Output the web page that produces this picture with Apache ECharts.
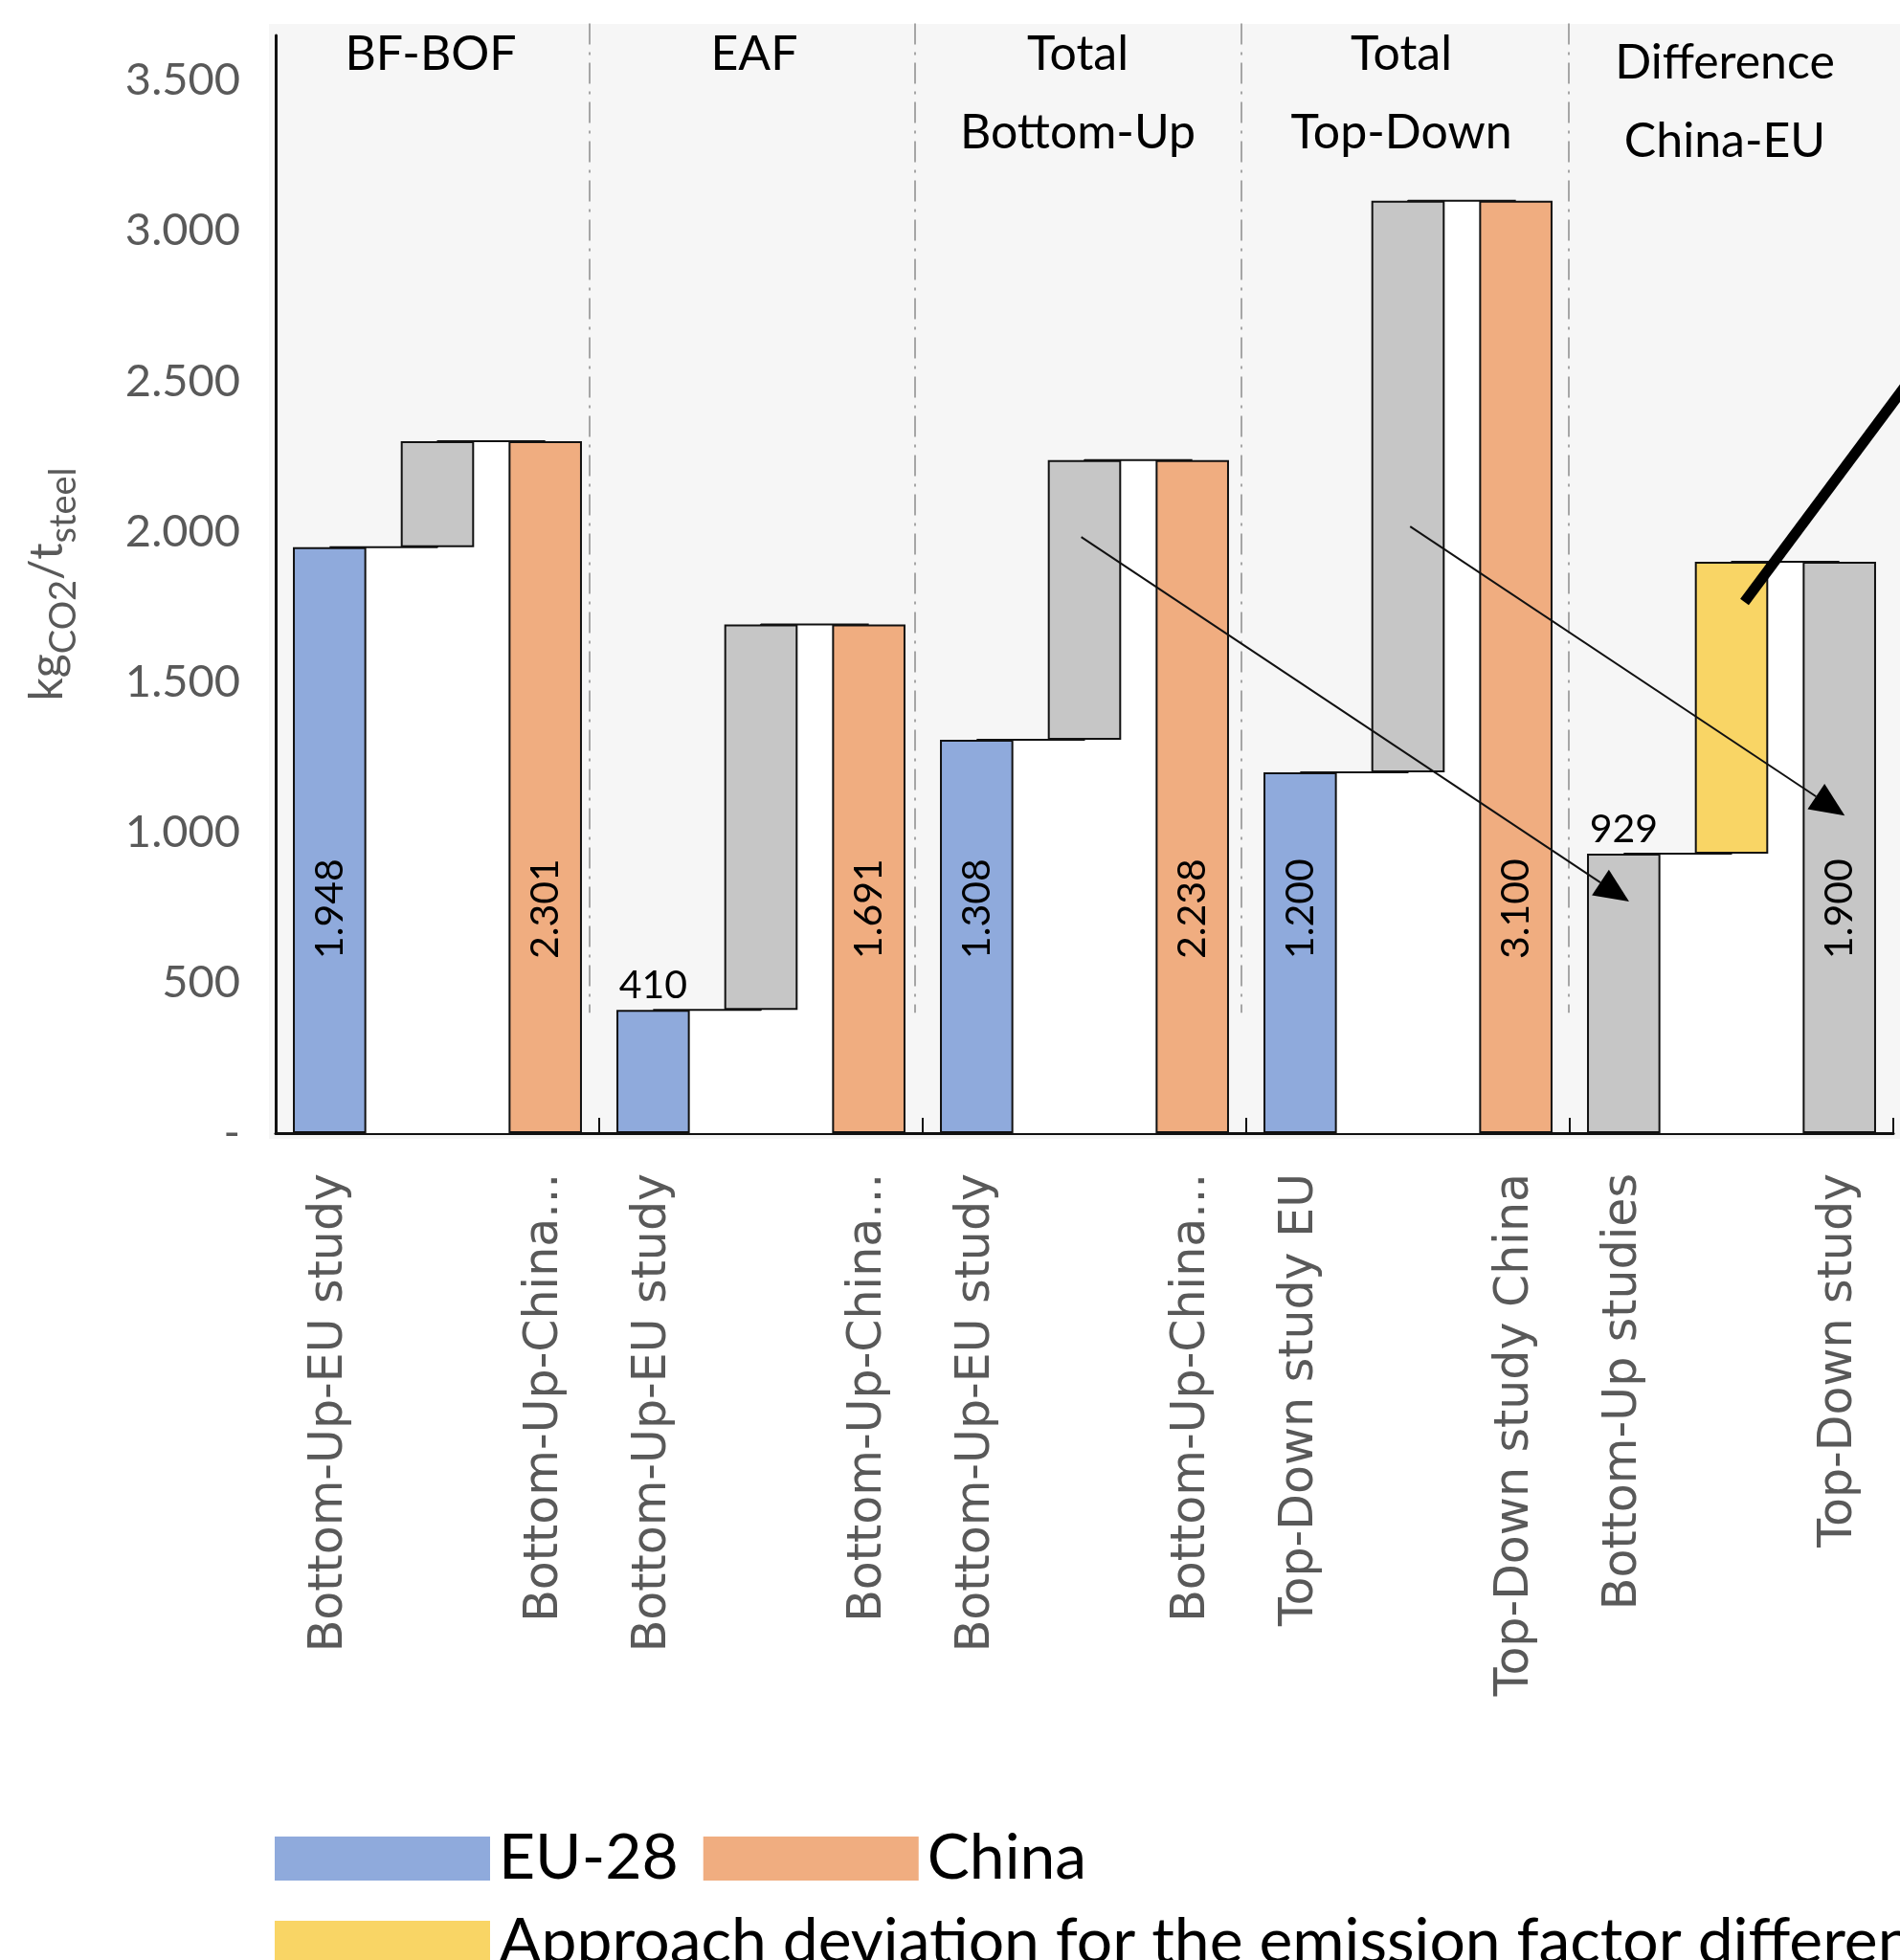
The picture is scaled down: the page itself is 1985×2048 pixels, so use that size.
<!DOCTYPE html>
<html>
<head>
<meta charset="utf-8">
<script src="https://cdn.jsdelivr.net/npm/echarts@6/dist/echarts.min.js"></script>
<style>
  html, body { margin: 0; padding: 0; background: #ffffff; }
  #chart { width: 1985px; height: 2048px; }
</style>
</head>
<body>
<div id="chart"></div>
<script>
// ---- Data -------------------------------------------------------------
// Three slots per group: EU study, gap between studies, China study
const categoryLabels = [
  'Bottom-Up-EU study', '', 'Bottom-Up-China...',
  'Bottom-Up-EU study', '', 'Bottom-Up-China...',
  'Bottom-Up-EU study', '', 'Bottom-Up-China...',
  'Top-Down study EU', '', 'Top-Down study China',
  'Bottom-Up studies', '', 'Top-Down study'
];
const groupTitles = ['BF-BOF', 'EAF', 'Total\nBottom-Up', 'Total\nTop-Down', 'Difference\nChina-EU'];

// Emission factors in kgCO2 per tonne of steel
// order: BF-BOF, EAF, Total Bottom-Up, Total Top-Down
const euValues = [1948, 410, 1308, 1200];
const chinaValues = [2301, 1691, 2238, 3100];
// China-EU difference by approach
const diffBottomUp = 929;
const diffTopDown = 1900;

const yTickValues = [0, 500, 1000, 1500, 2000, 2500, 3000, 3500];

// ---- Series arrays built from the values above -------------------------
const N = categoryLabels.length;
const empty = () => Array(N).fill('-');
const categoryKeys = categoryLabels.map((_, i) => 'slot' + i);

const euBars = empty();
const chinaBars = empty();
const floatBase = empty();
const gapBars = empty();
const approachBars = empty();
const diffBars = empty();

euValues.forEach((v, g) => {
  euBars[g * 3] = v;
  chinaBars[g * 3 + 2] = chinaValues[g];
  floatBase[g * 3 + 1] = v;
  gapBars[g * 3 + 1] = chinaValues[g] - v;
});
diffBars[12] = diffBottomUp;
diffBars[14] = diffTopDown;
floatBase[13] = diffBottomUp;
approachBars[13] = diffTopDown - diffBottomUp;

// Step outlines joining the bar tops of each group (left level, right level)
const stepLevels = euValues.map((v, g) => [v, chinaValues[g]]);
stepLevels.push([diffBottomUp, diffTopDown]);

// ---- Styling ----------------------------------------------------------
const COLORS = { eu: '#8FAADC', china: '#F0AD80', gray: '#C6C6C6', yellow: '#F9D565' };
const fmt = v => String(v).replace(/\B(?=(\d{3})+(?!\d))/g, '.');

const insideLabel = {
  show: true, position: 'insideBottom', distance: 182, rotate: 90,
  align: 'left', verticalAlign: 'middle',
  color: '#000', fontFamily: 'Lato', fontSize: 41,
  formatter: p => fmt(p.value)
};
const topLabel = {
  show: true, position: 'top', distance: 5, rotate: 0,
  align: 'center', verticalAlign: 'bottom',
  color: '#000', fontFamily: 'Lato', fontSize: 41,
  formatter: p => fmt(p.value)
};
// short bars carry their value above the bar
const withLabels = arr => arr.map(v => v === '-' ? v : { value: v, label: v < 1000 ? topLabel : insideLabel });

const barBase = {
  type: 'bar', stack: 'total', barCategoryGap: '32%', z: 3,
  itemStyle: { borderColor: '#111', borderWidth: 2 }
};

const stepSeries = stepLevels.map(([left, right], g) => ({
  type: 'line', step: 'end', silent: true, z: 1,
  symbol: 'none',
  data: [[g * 3, left], [g * 3 + 1, right], [g * 3 + 2, right]],
  lineStyle: { color: '#111', width: 2 },
  areaStyle: { color: '#ffffff', opacity: 1 }
}));

const legendCommon = {
  left: 282, orient: 'horizontal', icon: 'rect',
  itemWidth: 225, itemHeight: 46, itemGap: 26, selectedMode: false,
  itemStyle: { borderWidth: 0 },
  textStyle: { fontFamily: 'Lato', fontSize: 66, color: '#000', padding: [0, 0, 0, 4] }
};

const option = {
  animation: false,
  backgroundColor: '#ffffff',
  grid: { left: 288, right: 7, top: 37, bottom: 864, containLabel: false },
  legend: [
    Object.assign({ top: 1904, data: ['EU-28', 'China'] }, legendCommon),
    Object.assign({ top: 1992, data: ['Approach deviation for the emission factor difference'] }, legendCommon)
  ],
  xAxis: {
    type: 'category', data: categoryKeys,
    axisLine: { lineStyle: { color: '#111', width: 3 } },
    axisTick: { show: true, inside: true, length: 16, interval: 0, lineStyle: { color: '#111', width: 2 } },
    axisLabel: {
      interval: 0, rotate: 90, margin: 42, color: '#595959',
      fontFamily: 'DejaVu Sans', fontSize: 49,
      formatter: (v, i) => categoryLabels[i]
    },
    splitLine: { show: false }
  },
  yAxis: {
    type: 'value', min: 0, max: 3650, interval: 500,
    axisLine: { show: true, lineStyle: { color: '#111', width: 3 } },
    axisTick: { show: false },
    splitLine: { show: false },
    axisLabel: {
      margin: 37, color: '#595959', fontFamily: 'Lato', fontSize: 47,
      showMaxLabel: false,
      formatter: v => yTickValues.indexOf(v) < 0 ? '' : (v === 0 ? '-' : fmt(v))
    },
    name: '{m|kg}{s|CO2}{m|/t}{s|steel}',
    nameLocation: 'middle', nameRotate: 90, nameGap: 202,
    nameTextStyle: {
      color: '#595959',
      rich: {
        m: { fontFamily: 'Lato', fontSize: 48, lineHeight: 60, verticalAlign: 'top', color: '#595959' },
        s: { fontFamily: 'Lato', fontSize: 38, lineHeight: 34, verticalAlign: 'bottom', color: '#595959' }
      }
    }
  },
  series: [
    ...stepSeries,
    Object.assign({}, barBase, { name: 'base', data: floatBase, silent: true,
      itemStyle: { color: 'rgba(0,0,0,0)', borderWidth: 0 } }),
    Object.assign({}, barBase, { name: 'EU-28', data: withLabels(euBars),
      itemStyle: { color: COLORS.eu, borderColor: '#111', borderWidth: 2 } }),
    Object.assign({}, barBase, { name: 'China', data: withLabels(chinaBars),
      itemStyle: { color: COLORS.china, borderColor: '#111', borderWidth: 2 } }),
    Object.assign({}, barBase, { name: 'Gap between studies', data: gapBars,
      itemStyle: { color: COLORS.gray, borderColor: '#111', borderWidth: 2 } }),
    Object.assign({}, barBase, { name: 'Approach deviation for the emission factor difference', data: approachBars,
      itemStyle: { color: COLORS.yellow, borderColor: '#111', borderWidth: 2 } }),
    Object.assign({}, barBase, { name: 'Difference China-EU', data: withLabels(diffBars),
      itemStyle: { color: COLORS.gray, borderColor: '#111', borderWidth: 2 } })
  ]
};

const chart = echarts.init(document.getElementById('chart'), null, { renderer: 'canvas' });
chart.setOption(option);

// ---- Annotations placed through the axes ---------------------------------
const x0 = chart.convertToPixel({ xAxisIndex: 0 }, 0);
const band = chart.convertToPixel({ xAxisIndex: 0 }, 1) - x0;
const xAt = pos => x0 + pos * band;            // pos: category index (fractional allowed)
const yAt = v => chart.convertToPixel({ yAxisIndex: 0 }, v);
const pt = ([pos, v]) => [xAt(pos), yAt(v)];

// arrows linking the study gaps to the difference bars: [from, to] as [slot, value]
const arrowSpecs = [
  [[6.97, 1982], [12.05, 770]],
  [[10.02, 2017], [14.05, 1056]]
];
// leader line into the yellow bar, running off the right edge
const leaderSpec = [[13.12, 1766], [15.5, 2912]];
const titleTopShift = [0, 0, 0, 0, 9];
const separatorShift = [-10, -8, -5, -1];

const elements = [];
// plot backdrop
const gridTop = yAt(3650), gridBottom = yAt(0);
elements.push({
  type: 'rect', z: -5, silent: true,
  shape: { x: xAt(-0.5) - 7, y: gridTop - 12, width: 2000, height: gridBottom - gridTop + 18 },
  style: { fill: '#F6F6F6' }
});
// dash-dot separators between groups
for (let g = 1; g < 5; g++) {
  const x = xAt(g * 3 - 0.5) + separatorShift[g - 1];
  elements.push({
    type: 'line', z: 1, silent: true,
    shape: { x1: x, y1: yAt(3690), x2: x, y2: yAt(400) },
    style: { stroke: '#A6A6A6', lineWidth: 2, lineDash: [22, 8, 3, 8] }
  });
}
// group titles
groupTitles.forEach((t, g) => {
  elements.push({
    type: 'text', z: 5, silent: true,
    x: xAt(g * 3 + 1) - 7, y: 16 + titleTopShift[g],
    style: { text: t, fill: '#000', fontFamily: 'Lato', fontSize: 50, lineHeight: 82,
             align: 'center', verticalAlign: 'top' }
  });
});
// thin arrows with filled heads
arrowSpecs.forEach(([a, b]) => {
  const p1 = pt(a), p2 = pt(b);
  const dx = p2[0] - p1[0], dy = p2[1] - p1[1];
  const len = Math.hypot(dx, dy);
  const ux = dx / len, uy = dy / len;
  const headL = 36, headW = 16;
  const bx = p2[0] - ux * headL, by = p2[1] - uy * headL;
  elements.push({
    type: 'line', z: 10, silent: true,
    shape: { x1: p1[0], y1: p1[1], x2: bx, y2: by },
    style: { stroke: '#111', lineWidth: 2 }
  });
  elements.push({
    type: 'polygon', z: 10, silent: true,
    shape: { points: [p2, [bx - uy * headW, by + ux * headW], [bx + uy * headW, by - ux * headW]] },
    style: { fill: '#000' }
  });
});
// thick leader line
{
  const p1 = pt(leaderSpec[0]), p2 = pt(leaderSpec[1]);
  elements.push({
    type: 'line', z: 10, silent: true,
    shape: { x1: p1[0], y1: p1[1], x2: p2[0], y2: p2[1] },
    style: { stroke: '#000', lineWidth: 11, lineCap: 'butt' }
  });
}

chart.setOption({ graphic: { elements: elements } });
</script>
</body>
</html>
